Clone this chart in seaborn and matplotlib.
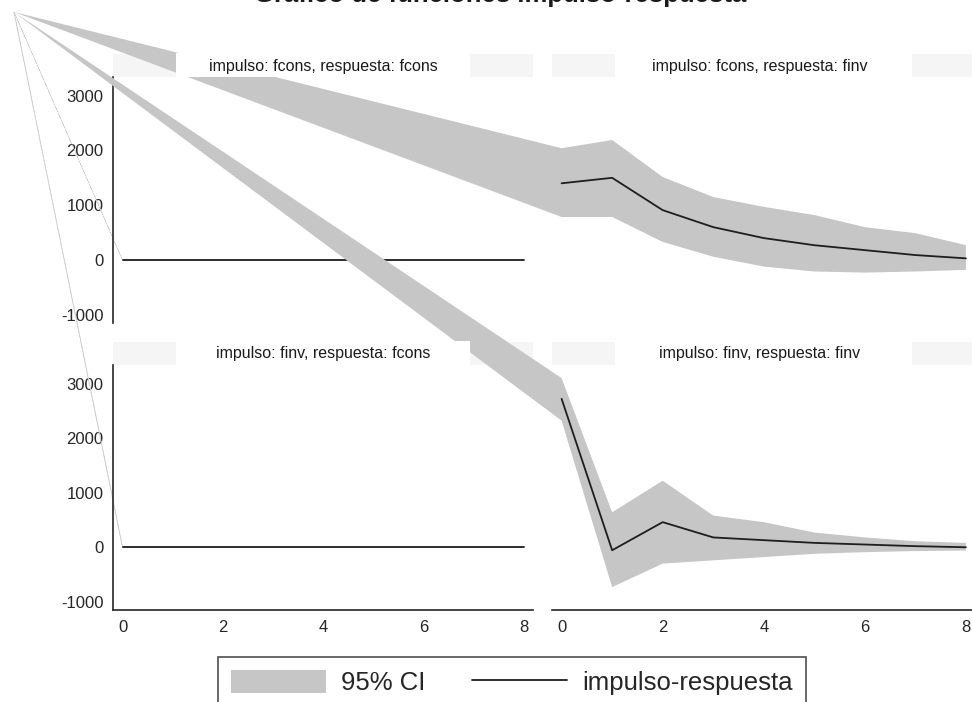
import matplotlib
matplotlib.use("Agg")
import matplotlib.pyplot as plt
from matplotlib.patches import Patch, Rectangle
from matplotlib.lines import Line2D
import pandas as pd
import seaborn as sns

# Horizon (steps after the shock)
steps = [0, 1, 2, 3, 4, 5, 6, 7, 8]

# impulso: fcons, respuesta: fcons
fcons_fcons_irf = [0, 0, 0, 0, 0, 0, 0, 0, 0]
fcons_fcons_lo = [0, 0, 0, 0, 0, 0, 0, 0, 0]
fcons_fcons_hi = [0, 0, 0, 0, 0, 0, 0, 0, 0]

# impulso: fcons, respuesta: finv
fcons_finv_irf = [1400, 1500, 910, 600, 400, 270, 180, 90, 30]
fcons_finv_lo = [785, 785, 330, 60, -120, -210, -230, -210, -180]
fcons_finv_hi = [2040, 2190, 1515, 1150, 970, 820, 600, 490, 270]

# impulso: finv, respuesta: fcons
finv_fcons_irf = [0, 0, 0, 0, 0, 0, 0, 0, 0]
finv_fcons_lo = [0, 0, 0, 0, 0, 0, 0, 0, 0]
finv_fcons_hi = [0, 0, 0, 0, 0, 0, 0, 0, 0]

# impulso: finv, respuesta: finv
finv_finv_irf = [2720, -55, 460, 180, 130, 80, 50, 20, 0]
finv_finv_lo = [2320, -730, -300, -240, -180, -120, -90, -70, -60]
finv_finv_hi = [3100, 640, 1220, 580, 460, 270, 180, 110, 80]

panel_titles = [
    "impulso: fcons, respuesta: fcons",
    "impulso: fcons, respuesta: finv",
    "impulso: finv, respuesta: fcons",
    "impulso: finv, respuesta: finv",
]
y_ticks = [-1000, 0, 1000, 2000, 3000]
x_ticks = [0, 2, 4, 6, 8]

series = [
    (fcons_fcons_irf, fcons_fcons_lo, fcons_fcons_hi),
    (fcons_finv_irf, fcons_finv_lo, fcons_finv_hi),
    (finv_fcons_irf, finv_fcons_lo, finv_fcons_hi),
    (finv_finv_irf, finv_finv_lo, finv_finv_hi),
]

frames = []
for title, (irf, lo, hi) in zip(panel_titles, series):
    frames.append(pd.DataFrame({"panel": title, "step": steps,
                                "irf": irf, "lo": lo, "hi": hi}))
data = pd.concat(frames, ignore_index=True)

sns.set_style("white")
plt.rcParams["font.family"] = ["Liberation Sans", "DejaVu Sans"]

W, H = 972, 702
fig = plt.figure(figsize=(W / 100, H / 100), dpi=100)


def px_rect(x0, y0, x1, y1):
    return [x0 / W, 1 - y1 / H, (x1 - x0) / W, (y1 - y0) / H]


boxes = [px_rect(113, 77, 533, 323), px_rect(552, 77, 975, 323),
         px_rect(113, 365, 533, 610), px_rect(552, 365, 975, 610)]

BAND_GRAY = "#c6c6c6"
LINE_COLOR = "#1e1e1e"
AXIS_COLOR = "#262626"
# common apex the band outlines run from (figure pixels, from top-left)
BAND_APEX = (14, 12)

for i, (title, box) in enumerate(zip(panel_titles, boxes)):
    row, col = divmod(i, 2)
    ax = fig.add_axes(box)
    ax.set_facecolor("none")
    ax.set_xlim(-0.19, 8.18)
    ax.set_ylim(-1150, 3340)
    sub = data[data["panel"] == title]

    # apex in this panel's data coordinates
    disp = fig.transFigure.transform((BAND_APEX[0] / W, 1 - BAND_APEX[1] / H))
    vx, vy = ax.transData.inverted().transform(disp)
    xs = [vx] + list(sub["step"]) + list(sub["step"])[::-1] + [vx]
    ys = [vy] + list(sub["hi"]) + list(sub["lo"])[::-1] + [vy]
    if col == 0:
        ax.fill(xs, ys, facecolor=BAND_GRAY, edgecolor="#cfcfcf",
                linewidth=0.6, linestyle=(0, (2, 1)), clip_on=False, zorder=1)
    else:
        ax.fill(xs, ys, facecolor=BAND_GRAY, edgecolor="none",
                clip_on=False, zorder=1)

    sns.lineplot(data=sub, x="step", y="irf", ax=ax, color=LINE_COLOR,
                 linewidth=1.3, errorbar=None, zorder=3)
    ax.set_xlabel("")
    ax.set_ylabel("")

    ax.set_yticks(y_ticks)
    ax.set_xticks(x_ticks)
    ax.set_yticklabels([str(t) for t in y_ticks])
    ax.tick_params(direction="out", length=5, width=1, labelsize=12,
                   colors="#262626", pad=2)
    for s in ("top", "right"):
        ax.spines[s].set_visible(False)
    for s in ("left", "bottom"):
        ax.spines[s].set_color(AXIS_COLOR)
        ax.spines[s].set_linewidth(1.2)
    if col == 1:
        ax.spines["left"].set_visible(False)
        ax.tick_params(left=False, labelleft=False)
    if row == 0:
        ax.spines["bottom"].set_visible(False)
        ax.tick_params(bottom=False, labelbottom=False)

    # title strip above the panel
    x0, y0, w, h = box
    fig.patches.append(Rectangle((x0, y0 + h), w, 23 / H,
                                 transform=fig.transFigure,
                                 facecolor="#f5f5f5", edgecolor="none",
                                 zorder=-1))
    fig.patches.append(Rectangle((x0 + 0.15 * w, y0 + h), 0.7 * w, 24 / H,
                                 transform=fig.transFigure,
                                 facecolor="white", edgecolor="none",
                                 zorder=4))
    fig.text(x0 + w / 2 - (4 / W if col == 1 else 0), y0 + h + 11 / H, title,
             ha="center", va="center", fontsize=11.5, color="#1a1a1a",
             zorder=5)

fig.text(500 / W, 1 - 2 / H, "Gráfico de funciones impulso-respuesta",
         ha="center", va="baseline", fontsize=18.5, fontweight="bold",
         color="#1a1a1a", zorder=5)

handles = [Patch(facecolor=BAND_GRAY, edgecolor="none", label="95% CI"),
           Line2D([], [], color=LINE_COLOR, linewidth=1.3,
                  label="impulso-respuesta")]
leg = fig.legend(handles=handles, ncol=2, loc="upper center",
                 bbox_to_anchor=(512 / W, 1 - 657 / H),
                 fontsize=18.5, frameon=True, fancybox=False,
                 edgecolor="#222222", borderpad=0.5, handlelength=3.7,
                 handleheight=1.0, handletextpad=0.6, columnspacing=1.8,
                 borderaxespad=0)
leg.get_frame().set_linewidth(1.2)
leg.set_zorder(6)

fig.savefig("out.png", dpi=100, facecolor="white")
